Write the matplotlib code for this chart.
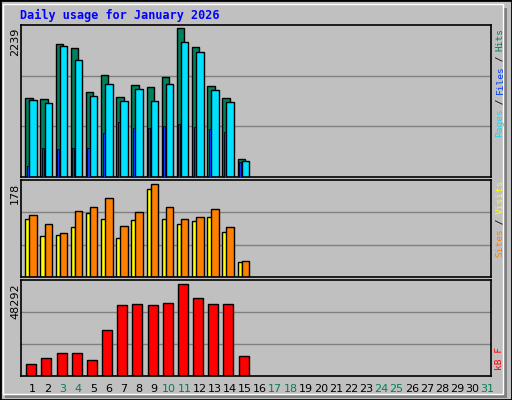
import matplotlib
matplotlib.use('Agg')
from matplotlib import pyplot as plt
from matplotlib.patches import Rectangle
import numpy

days = list(range(1, 32))
weekend_days = [3, 4, 10, 11, 17, 18, 24, 25, 31]

hits = [1193, 1178, 1996, 1936, 1284, 1542, 1208, 1390, 1360, 1511, 2239, 1951, 1375, 1193, 268]
files = [1163, 1117, 1966, 1769, 1223, 1405, 1148, 1330, 1148, 1405, 2027, 1875, 1314, 1132, 238]
pages = [162, 435, 420, 435, 435, 662, 829, 738, 738, 769, 799, 753, 723, 678, 223]
visits = [111, 78, 80, 95, 122, 112, 74, 109, 168, 112, 101, 107, 114, 87, 28]
sites = [118, 101, 84, 126, 134, 151, 97, 124, 178, 134, 112, 114, 130, 95, 31]
kbytes = [6500, 9350, 12340, 12340, 8640, 24160, 37200, 37730, 37200, 38250, 48292, 40900, 37730, 37730, 10760]

BG = '#C0C0C0'
W, H = 512, 400
fig = plt.figure(figsize=(W / 100, H / 100), dpi=100, facecolor=BG)

# outer frame and shadow
fig.patches.append(Rectangle((0, 0), 1, 1, transform=fig.transFigure, fill=False, ec='black', lw=2))
fig.patches.append(Rectangle((5 / W, 2 / H), 502 / W, 4 / H, transform=fig.transFigure, fc='#808080', ec='none'))
fig.patches.append(Rectangle((503 / W, 2 / H), 4 / W, 390 / H, transform=fig.transFigure, fc='#808080', ec='none'))
fig.patches.append(Rectangle((3 / W, 6 / H), 500 / W, 390 / H, transform=fig.transFigure, fill=False, ec='white', lw=1))

fig.text(20 / W, 1 - 15 / H, 'Daily usage for January 2026', color='#0000FF', fontsize=8.5,
         family='DejaVu Sans Mono', weight='bold', va='center')

x0, x1 = 20.7, 490.7


def make_ax(top, bottom, vmax, label):
    ax = fig.add_axes([x0 / W, 1 - bottom / H, (x1 - x0) / W, (bottom - top) / H])
    ax.set_facecolor(BG)
    ax.set_xlim(0, 31)
    ax.set_ylim(0, vmax)
    ax.set_xticks([])
    ax.set_yticks([])
    for y in (vmax / 3, 2 * vmax / 3):
        ax.axhline(y, color='#808080', lw=1.0, zorder=0)
    for s in ax.spines.values():
        s.set_linewidth(1.2)
    fig.text(15 / W, 1 - (top + 3) / H, label, rotation=90, fontsize=8, ha='center', va='top')
    return ax


def bars(ax, vals, off, width, color, lw=1.0, z=2):
    idx = numpy.arange(len(vals))
    ax.bar(idx + off, vals, width=width, align='edge', color=color, ec='black', lw=lw, zorder=z)


ax1 = make_ax(25, 177, 2239 * 151 / 147.7, '2239')
bars(ax1, hits, 0.30, 0.49, '#00805C')
bars(ax1, files, 0.57, 0.49, '#00E0FF', z=2.5)
bars(ax1, pages, 0.40, 0.14, '#0040FF', lw=0.6, z=3)

ax2 = make_ax(180, 277, 178 * 96.3 / 92.3, '178')
bars(ax2, visits, 0.30, 0.30, '#FFFF00')
bars(ax2, sites, 0.57, 0.49, '#FF8000', z=2.5)

ax3 = make_ax(280, 376, 48292 * 95.4 / 91.3, '48292')
bars(ax3, kbytes, 0.37, 0.66, '#FF0000')

for d in days:
    col = '#00805C' if d in weekend_days else 'black'
    fig.text((x0 + (d - 1 + 0.8) * 15.16) / W, 1 - 389 / H, str(d), color=col, fontsize=8,
             ha='center', va='center')


def side_label(parts, bottom_y):
    # stacked rotated monospace words, reading bottom to top
    ch = 5.4
    y = bottom_y
    for txt, col in parts:
        fig.text(500 / W, 1 - y / H, txt, rotation=90, color=col, fontsize=6.8,
                 family='DejaVu Sans Mono', ha='center', va='bottom')
        y -= ch * len(txt)


side_label([('Pages', '#00E0FF'), (' / ', 'black'), ('Files', '#0040FF'), (' / ', 'black'), ('Hits', '#00805C')], 137)
side_label([('Sites', '#FF8000'), (' / ', 'black'), ('Visits', '#FFFF00')], 257)
side_label([('kB F', '#FF0000')], 370)

fig.savefig('out.png', dpi=100, facecolor=BG)
